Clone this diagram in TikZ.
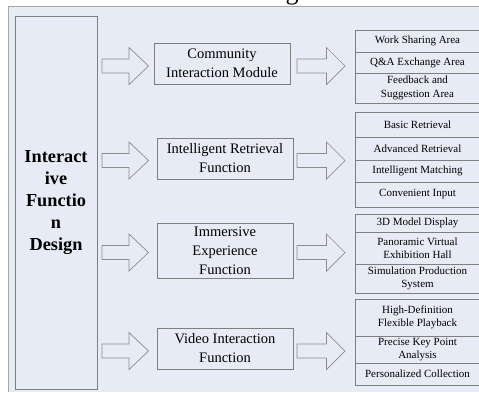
\documentclass[tikz,border=0pt]{standalone}
\usepackage{fontspec}
\setmainfont{Liberation Serif}
\definecolor{bgc}{HTML}{E7EBF5}
\definecolor{lnc}{HTML}{7F7F7F}
\definecolor{arc}{HTML}{8C8C8C}
\newcommand\mycell[4]{\node[cellst, minimum height={#3-#2}] (#1) at (417.5,{(#2+#3)/2}) {#4};}
\newcommand\myarrow[5]{\draw[blockarr] (#1,{#4-7}) coordinate (#5) -- (#2,{#4-7}) -- (#2,{#4-18.5}) -- (#3,#4) -- (#2,{#4+18.5}) -- (#2,{#4+7}) -- (#1,{#4+7}) -- cycle;}
\begin{document}
\begin{tikzpicture}[x=1pt,y=-1pt,
  box/.style={draw=lnc, line width=0.9pt, fill=bgc, inner sep=0pt, align=center},
  mainbox/.style={box, minimum width=136, font=\fontsize{14.5}{19}\selectfont},
  cellst/.style={box, minimum width=125, font=\fontsize{11}{13.5}\selectfont},
  blockarr/.style={draw=arc, line width=0.7pt, fill=bgc, line join=miter}]
\useasboundingbox (0,0) rectangle (479,392);
\begin{scope}
\clip (0,0) rectangle (479,392);
\fill[bgc] (8,6.5) rectangle (479,392);
\draw[gray!70, line width=1pt] (8,392) -- (8,6.5) -- (479,6.5);
\node[font=\fontsize{26}{26}\selectfont, anchor=base, inner sep=0pt] (ttl) at (292,-0.5) {g};
% left box
\node[box, minimum width=82, minimum height=373, font=\bfseries\fontsize{18.3}{22}\selectfont] (L) at (56,202.5) {Interact\\ive\\Functio\\n\\Design};
% middle boxes
\node[mainbox, minimum height=41] (M1) at (222,63.5) {Community\\Interaction Module};
\node[mainbox, minimum height=41] (M2) at (225,158.5) {Intelligent Retrieval\\Function};
\node[mainbox, minimum height=55] (M3) at (225,250.5) {Immersive\\Experience\\Function};
\node[mainbox, minimum height=41] (M4) at (225,348.5) {Video Interaction\\Function};
% arrows
\myarrow{102}{129}{148.5}{66}{a1}
\myarrow{102}{129}{148.5}{160.5}{a2}
\myarrow{102}{129}{148.5}{252.5}{a3}
\myarrow{102}{129}{148.5}{351}{a4}
\myarrow{297}{326.5}{345}{66}{b1}
\myarrow{297}{326.5}{345}{160.5}{b2}
\myarrow{297}{326.5}{345}{252.5}{b3}
\myarrow{297}{326.5}{345}{351}{b4}
% right cells
\mycell{c11}{30}{52}{Work Sharing Area}
\mycell{c12}{52}{73}{Q\&A Exchange Area}
\mycell{c13}{73}{103}{Feedback and\\Suggestion Area}
\mycell{c21}{112}{137}{Basic Retrieval}
\mycell{c22}{137}{160}{Advanced Retrieval}
\mycell{c23}{160}{182}{Intelligent Matching}
\mycell{c24}{182}{207}{Convenient Input}
\mycell{c31}{214}{232}{3D Model Display}
\mycell{c32}{232}{264}{Panoramic Virtual\\Exhibition Hall}
\mycell{c33}{264}{293}{Simulation Production\\System}
\mycell{c41}{299}{336}{High-Definition\\Flexible Playback}
\mycell{c42}{336}{363}{Precise Key Point\\Analysis}
\mycell{c43}{363}{385}{Personalized Collection}
\end{scope}
\end{tikzpicture}
\end{document}
